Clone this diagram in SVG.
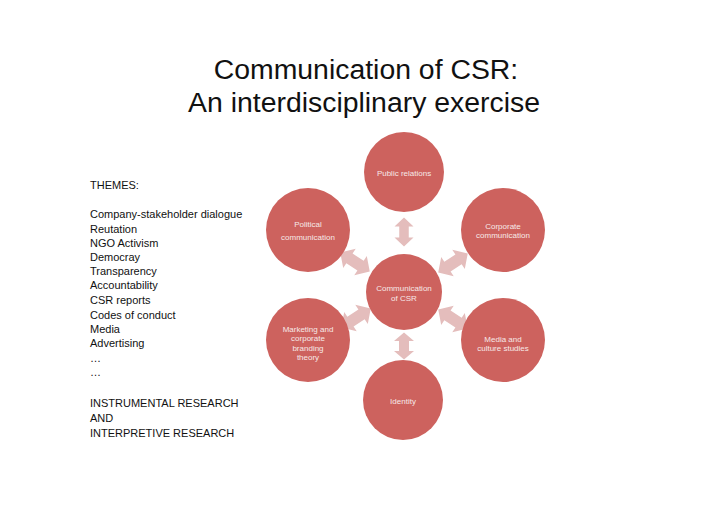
<svg xmlns="http://www.w3.org/2000/svg" xmlns:xlink="http://www.w3.org/1999/xlink" width="728" height="515" viewBox="0 0 728 515">
<style>
.title{font-family:"Liberation Sans",Arial,sans-serif;font-size:28.4px;fill:#111;text-anchor:middle}
.left{font-family:"Liberation Sans",Arial,sans-serif;font-size:11px;fill:#111}
.node circle{fill:#cd625e}
.node text{font-family:"Liberation Sans",Arial,sans-serif;font-size:8px;fill:#f7e9e8;text-anchor:middle}
.arr{fill:#e4bdbc}
</style>
<defs>
<path id="dbl" d="M-16,0 L-6,-10 L-6,-5 L6,-5 L6,-10 L16,0 L6,10 L6,5 L-6,5 L-6,10 Z"/>
</defs>
<rect width="728" height="515" fill="#ffffff"/>
<text class="title" x="366" y="79">Communication of CSR:</text>
<text class="title" x="364" y="112">An interdisciplinary exercise</text>
<g id="themes" class="left">
<text x="90" y="189">THEMES:</text>
<text x="90" y="218">Company-stakeholder dialogue</text>
<text x="90" y="233">Reutation</text>
<text x="90" y="247">NGO Activism</text>
<text x="90" y="261">Democray</text>
<text x="90" y="275">Transparency</text>
<text x="90" y="289">Accountability</text>
<text x="90" y="304">CSR reports</text>
<text x="90" y="319">Codes of conduct</text>
<text x="90" y="333">Media</text>
<text x="90" y="347">Advertising</text>
<text x="90" y="362">…</text>
<text x="90" y="376">…</text>
<text x="90" y="407">INSTRUMENTAL RESEARCH</text>
<text x="90" y="422">AND</text>
<text x="90" y="437">INTERPRETIVE RESEARCH</text>
</g>
<g id="connectors" class="arr">
<use xlink:href="#dbl" transform="translate(404,232) rotate(90) scale(0.9,0.95)"/>
<use xlink:href="#dbl" transform="translate(404,346) rotate(90) scale(0.85,1)"/>
<use xlink:href="#dbl" transform="translate(355,262) rotate(33) scale(1.1,1.15)"/>
<use xlink:href="#dbl" transform="translate(453,263) rotate(-33) scale(1.1,1.15)"/>
<use xlink:href="#dbl" transform="translate(356,318) rotate(-33) scale(1.1,1.15)"/>
<use xlink:href="#dbl" transform="translate(453,319) rotate(33) scale(1.1,1.15)"/>
</g>
<g id="center" class="node"><circle cx="404" cy="292" r="38"/><text x="404" y="291">Communication</text><text x="404" y="301">of CSR</text></g>
<g id="public-relations" class="node"><circle cx="404" cy="172" r="40"/><text x="404" y="176">Public relations</text></g>
<g id="political" class="node"><circle cx="308" cy="230" r="42"/><text x="308" y="227">Political</text><text x="308" y="240">communication</text></g>
<g id="corporate" class="node"><circle cx="503" cy="230" r="42"/><text x="503" y="229">Corporate</text><text x="503" y="238">communication</text></g>
<g id="marketing" class="node"><circle cx="308" cy="340" r="42"/><text x="308" y="332">Marketing and</text><text x="308" y="341">corporate</text><text x="308" y="351">branding</text><text x="308" y="360">theory</text></g>
<g id="media" class="node"><circle cx="503" cy="340" r="42"/><text x="503" y="342">Media and</text><text x="503" y="351">culture studies</text></g>
<g id="identity" class="node"><circle cx="403" cy="400" r="40"/><text x="403" y="404">Identity</text></g>
</svg>
